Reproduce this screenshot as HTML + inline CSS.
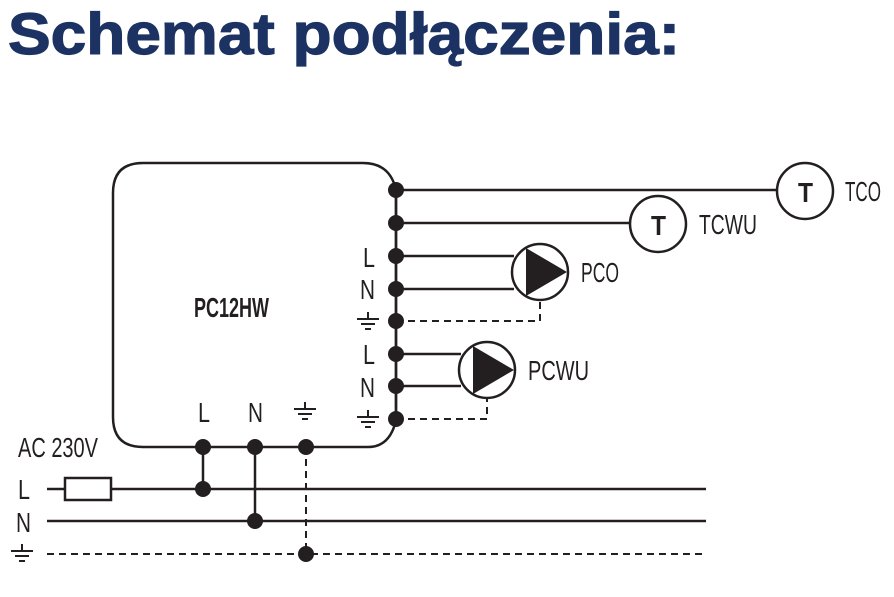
<!DOCTYPE html>
<html><head><meta charset="utf-8"><style>
html,body{margin:0;padding:0;background:#fff;width:894px;height:597px;overflow:hidden}
svg{display:block}
</style></head><body>
<svg width="894" height="597" xmlns="http://www.w3.org/2000/svg">
<text x="8" y="54" font-family="Liberation Sans, sans-serif" font-weight="bold" font-size="58" fill="#1c3263" stroke="#1c3263" stroke-width="1.2" textLength="672" lengthAdjust="spacingAndGlyphs">Schemat podłączenia:</text>
<g stroke="#231f20" stroke-width="2.5" fill="none">
<path d="M396,190 Q390,163 363,163 L143,163 Q113,163 113,193 L113,417 Q113,447 143,447 L368,447 Q390,447 396,420 Z"/>
<line x1="396" y1="190" x2="396" y2="420"/>
<line x1="396" y1="190" x2="777" y2="190"/>
<line x1="396" y1="223" x2="630" y2="223"/>
<line x1="396" y1="256" x2="514" y2="256"/>
<line x1="396" y1="289" x2="514" y2="289"/>
<line x1="396" y1="354" x2="461" y2="354"/>
<line x1="396" y1="386" x2="461" y2="386"/>
<circle cx="805" cy="191" r="28"/>
<circle cx="658" cy="224" r="28"/>
<circle cx="540" cy="272" r="28"/>
<circle cx="487" cy="370" r="28"/>
<line x1="47" y1="489" x2="706" y2="489"/>
<line x1="47" y1="521" x2="706" y2="521"/>
<rect x="65" y="478" width="46" height="22" fill="#fff"/>
<line x1="203" y1="447" x2="203" y2="489"/>
<line x1="255" y1="447" x2="255" y2="521"/>
</g>
<g stroke="#231f20" stroke-width="2" fill="none" stroke-dasharray="7,5">
<polyline points="396,321 540,321 540,300"/>
<polyline points="396,419 487,419 487,398"/>
<line x1="47" y1="554" x2="706" y2="554"/>
<line x1="306" y1="447" x2="306" y2="554"/>
</g>
<g fill="#231f20">
<polygon points="526,248 526,296 567,272"/>
<polygon points="473,346 473,394 514,370"/>
<circle cx="396" cy="190" r="8"/><circle cx="396" cy="223" r="8"/>
<circle cx="396" cy="256" r="8"/><circle cx="396" cy="289" r="8"/>
<circle cx="396" cy="321" r="8"/><circle cx="396" cy="354" r="8"/>
<circle cx="396" cy="386" r="8"/><circle cx="396" cy="419" r="8"/>
<circle cx="203" cy="447" r="8"/><circle cx="255" cy="447" r="8"/><circle cx="306" cy="447" r="8"/>
<circle cx="203" cy="489" r="8"/><circle cx="255" cy="521" r="8"/><circle cx="306" cy="554" r="8"/>
</g>
<g stroke="#231f20" stroke-width="2">
<path d="M368,312v7M357,319h22M361,324h14M365,329h6"/>
<path d="M368,410v7M357,417h22M361,422h14M365,427h6"/>
<path d="M305,402v7M294,409h22M298,414h14M302,419h6"/>
<path d="M22,544v7M11,551h22M15,556h14M19,561h6"/>
</g>
<g font-family="Liberation Sans Narrow, Liberation Sans, sans-serif" font-size="28" fill="#231f20" lengthAdjust="spacingAndGlyphs">
<text x="194" y="317" font-weight="bold" textLength="75" lengthAdjust="spacingAndGlyphs">PC12HW</text>
<text x="363" y="267" textLength="12" lengthAdjust="spacingAndGlyphs">L</text><text x="360" y="299" textLength="15" lengthAdjust="spacingAndGlyphs">N</text>
<text x="363" y="364" textLength="12" lengthAdjust="spacingAndGlyphs">L</text><text x="360" y="397" textLength="15" lengthAdjust="spacingAndGlyphs">N</text>
<text x="198" y="422" textLength="12" lengthAdjust="spacingAndGlyphs">L</text><text x="248" y="422" textLength="15" lengthAdjust="spacingAndGlyphs">N</text>
<text x="18" y="457" textLength="80" lengthAdjust="spacingAndGlyphs">AC 230V</text>
<text x="18" y="499" textLength="12" lengthAdjust="spacingAndGlyphs">L</text><text x="16" y="532" textLength="15" lengthAdjust="spacingAndGlyphs">N</text>
<text x="845" y="201" textLength="36" lengthAdjust="spacingAndGlyphs">TCO</text>
<text x="699" y="234" textLength="58" lengthAdjust="spacingAndGlyphs">TCWU</text>
<text x="581" y="282" textLength="38" lengthAdjust="spacingAndGlyphs">PCO</text>
<text x="528" y="380" textLength="61" lengthAdjust="spacingAndGlyphs">PCWU</text>
<text x="798" y="202" font-weight="bold" textLength="15" lengthAdjust="spacingAndGlyphs">T</text>
<text x="651" y="235" font-weight="bold" textLength="15" lengthAdjust="spacingAndGlyphs">T</text>
</g>
</svg>
</body></html>
